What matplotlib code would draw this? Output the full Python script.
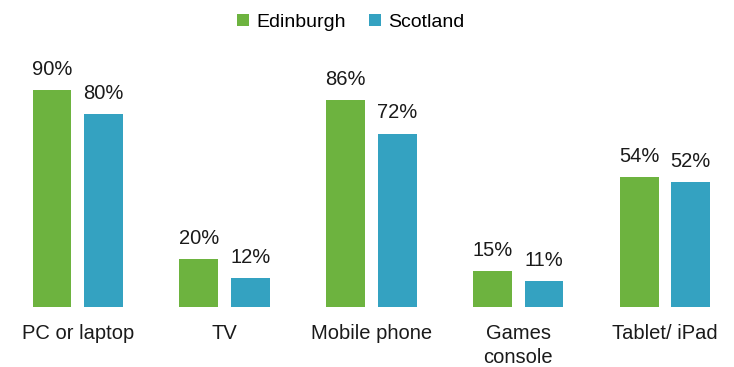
import numpy as np
import matplotlib
matplotlib.use('Agg')
import matplotlib.pyplot as plt

plt.rcParams['font.family'] = ['Liberation Sans', 'DejaVu Sans']

categories = ['PC or laptop', 'TV', 'Mobile phone', 'Games\nconsole', 'Tablet/ iPad']
edinburgh = [90, 20, 86, 15, 54]
scotland = [80, 12, 72, 11, 52]
series_names = ['Edinburgh', 'Scotland']
colors = ['#6db33f', '#34a2c1']

fig = plt.figure(figsize=(7.34, 3.67), dpi=100)
ax = fig.add_axes([0.006, 0.163, 1.0, 0.657])

x = np.arange(len(categories))
w = 0.265
off = 0.176
for vals, name, c, d in zip([edinburgh, scotland], series_names, colors, [-off, off]):
    bars = ax.bar(x + d, vals, w, color=c, label=name)
    for b, v in zip(bars, vals):
        ax.annotate('%d%%' % v, (b.get_x() + b.get_width() / 2, v),
                    xytext=(0, 8), textcoords='offset points',
                    ha='center', va='bottom', fontsize=14.5, color='#1a1a1a')

ax.set_xlim(-0.5, 4.5)
ax.set_ylim(0, 100)
ax.set_yticks([])
ax.set_xticks(x)
ax.set_xticklabels(categories, fontsize=14.5, color='#1a1a1a', linespacing=1.35)
ax.tick_params(axis='x', length=0, pad=12)
for s in ax.spines.values():
    s.set_visible(False)

fig.legend(loc='upper center', bbox_to_anchor=(0.478, 1.01), ncol=2, frameon=False,
           fontsize=14, handlelength=0.6, handleheight=0.6, handletextpad=0.4,
           columnspacing=1.2)

fig.savefig('out.png', dpi=100)
